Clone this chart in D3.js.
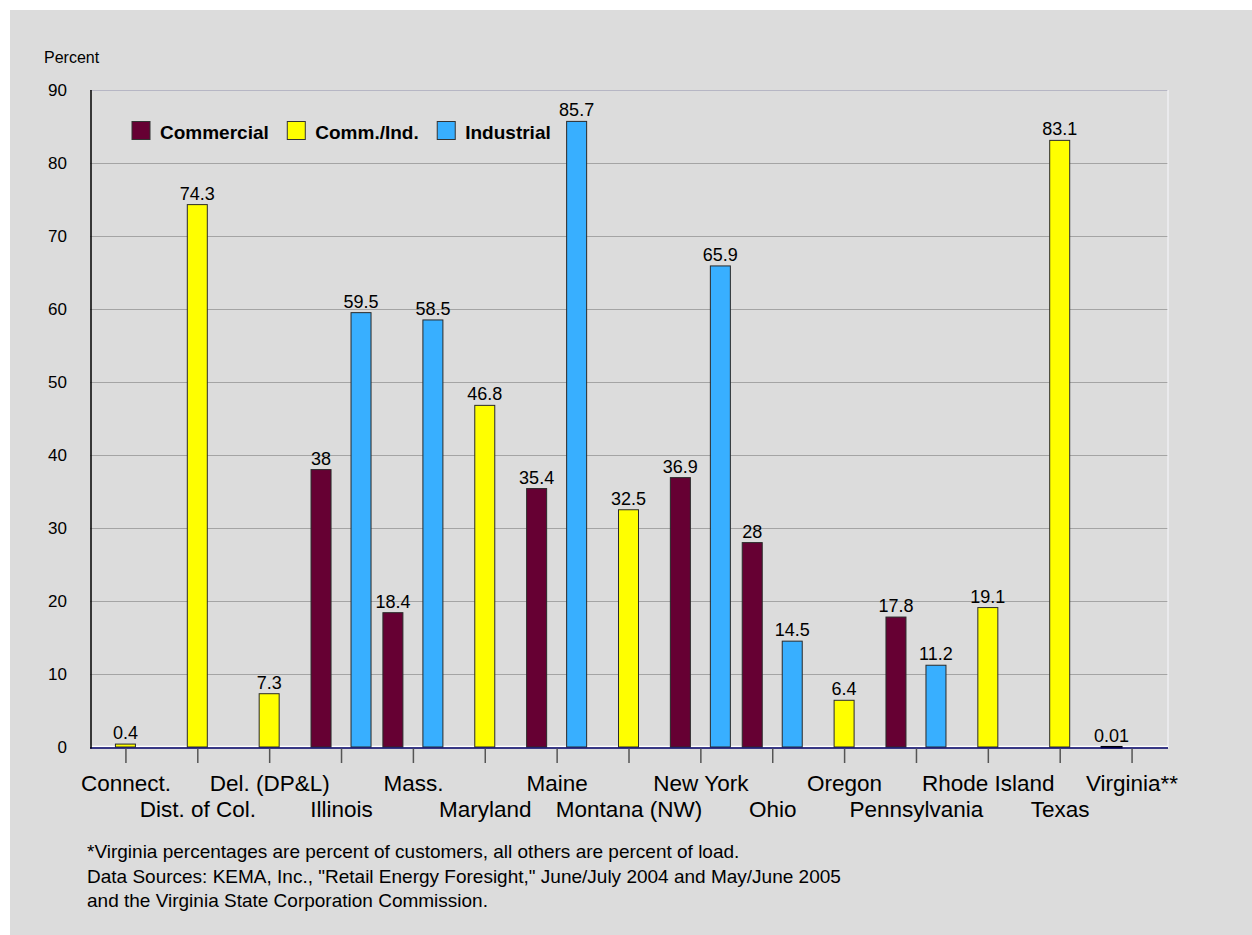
<!DOCTYPE html>
<html>
<head>
<meta charset="utf-8">
<script src="https://cdn.jsdelivr.net/npm/d3@7"></script>
<style>
  html, body { margin: 0; padding: 0; background: #ffffff; }
  svg { display: block; }
  text { font-family: "Liberation Sans", Arial, Helvetica, sans-serif; fill: #000; }
</style>
</head>
<body>
<svg id="chart" width="1252" height="935"></svg>
<script>
// Share of load (percent) served by competitive suppliers, by state and customer class
const categories = ["Connect.", "Dist. of Col.", "Del. (DP&L)", "Illinois", "Mass.", "Maryland",
  "Maine", "Montana (NW)", "New York", "Ohio", "Oregon", "Pennsylvania", "Rhode Island", "Texas", "Virginia**"];
const commercial = [null, null, null, 38, 18.4, null, 35.4, null, 36.9, 28, null, 17.8, null, null, 0.01];
const commInd    = [0.4, 74.3, 7.3, null, null, 46.8, null, 32.5, null, null, 6.4, null, 19.1, 83.1, null];
const industrial = [null, null, null, 59.5, 58.5, null, 85.7, null, 65.9, 14.5, null, 11.2, null, null, null];
const seriesNames = ["Commercial", "Comm./Ind.", "Industrial"];
const yTicks = [0, 10, 20, 30, 40, 50, 60, 70, 80, 90];
const footnotes = [
  "*Virginia percentages are percent of customers, all others are percent of load.",
  "Data Sources: KEMA, Inc., \"Retail Energy Foresight,\" June/July 2004 and May/June 2005",
  "and the Virginia State Corporation Commission."
];

const seriesValues = [commercial, commInd, industrial];
const colors = ["#660033", "#ffff00", "#38afff"];

const svg = d3.select("#chart");

// panel background
svg.append("rect").attr("x", 10).attr("y", 10).attr("width", 1242).attr("height", 925).attr("fill", "#dcdcdc");

const plot = { left: 90, right: 1168, top: 90, bottom: 747 };

const x = d3.scaleBand().domain(categories).range([plot.left, plot.right]).padding(0);
const sub = d3.scaleBand().domain(seriesNames).range([-30.5, 29.5]).paddingInner(0);
const y = d3.scaleLinear().domain([0, 90]).range([plot.bottom, plot.top]);
const cx = c => x(c) + x.bandwidth() / 2;

// horizontal gridlines
svg.append("g").selectAll("line")
  .data(yTicks.filter(t => t > 0 && t < 90))
  .join("line")
  .attr("x1", plot.left).attr("x2", plot.right)
  .attr("y1", d => Math.round(y(d)) + 0.5).attr("y2", d => Math.round(y(d)) + 0.5)
  .attr("stroke", "#a4a4a4").attr("stroke-width", 1.2);

// top and right frame
svg.append("line").attr("x1", plot.left).attr("x2", plot.right)
  .attr("y1", y(90) + 0.5).attr("y2", y(90) + 0.5).attr("stroke", "#b6b6c4").attr("stroke-width", 1.2);
svg.append("line").attr("x1", plot.right).attr("x2", plot.right)
  .attr("y1", plot.top).attr("y2", plot.bottom + 1).attr("stroke", "#f4f4f8").attr("stroke-width", 1.2);
// white baseline highlight
svg.append("line").attr("x1", plot.left).attr("x2", plot.right)
  .attr("y1", y(0) - 0.5).attr("y2", y(0) - 0.5).attr("stroke", "#ffffff").attr("stroke-width", 1.5);

// y tick labels
svg.append("g").selectAll("text")
  .data(yTicks)
  .join("text")
  .attr("x", 67).attr("y", d => y(d)).attr("dy", "0.36em")
  .attr("text-anchor", "end").style("font-size", "17px")
  .text(d => d);

svg.append("text").attr("x", 44).attr("y", 63).style("font-size", "16px").text("Percent");

// bars
const barData = [];
seriesNames.forEach((s, si) => {
  seriesValues[si].forEach((v, ci) => {
    if (v !== null) barData.push({ series: s, si, cat: categories[ci], value: v });
  });
});

const bars = svg.append("g");
bars.selectAll("rect")
  .data(barData)
  .join("rect")
  .attr("x", d => cx(d.cat) + sub(d.series))
  .attr("width", sub.bandwidth())
  .attr("y", d => y(d.value))
  .attr("height", d => Math.max(y(0) - y(d.value), 0.5))
  .attr("fill", d => colors[d.si])
  .attr("stroke", d => d.si === 0 && d.value < 0.1 ? "#000" : "#2a2a2a")
  .attr("stroke-width", d => d.value < 0.1 ? 2 : 1);

// value labels
bars.selectAll("text")
  .data(barData)
  .join("text")
  .attr("x", d => cx(d.cat) + sub(d.series) + sub.bandwidth() / 2)
  .attr("y", d => y(d.value) - 5)
  .attr("text-anchor", "middle")
  .style("font-size", "18px")
  .text(d => d.value);

// axes lines
svg.append("line").attr("x1", plot.left).attr("x2", plot.right)
  .attr("y1", y(0) + 1).attr("y2", y(0) + 1).attr("stroke", "#000066").attr("stroke-width", 1.5);
svg.append("line").attr("x1", plot.left + 1).attr("x2", plot.left + 1)
  .attr("y1", plot.top).attr("y2", y(0) + 1.5).attr("stroke", "#000").attr("stroke-width", 1.5);

// category ticks and staggered labels
const xg = svg.append("g");
xg.selectAll("line")
  .data(categories)
  .join("line")
  .attr("x1", d => cx(d)).attr("x2", d => cx(d))
  .attr("y1", y(0) + 1.5).attr("y2", y(0) + 16)
  .attr("stroke", "#555").attr("stroke-width", 1.5);
xg.selectAll("text")
  .data(categories)
  .join("text")
  .attr("x", d => cx(d))
  .attr("y", (d, i) => i % 2 === 0 ? 791 : 817)
  .attr("text-anchor", "middle")
  .style("font-size", "22.5px")
  .text(d => d);

// legend
const legend = svg.append("g");
let lx = 132;
seriesNames.forEach((s, i) => {
  legend.append("rect").attr("x", lx).attr("y", 121.5).attr("width", 18).attr("height", 18)
    .attr("fill", colors[i]).attr("stroke", "#333").attr("stroke-width", 1);
  const t = legend.append("text").attr("x", lx + 28).attr("y", 139)
    .style("font-size", "19px").style("font-weight", "bold").text(s);
  lx += 28 + t.node().getComputedTextLength() + 18.5;
});

// footnotes
svg.append("g").selectAll("text")
  .data(footnotes)
  .join("text")
  .attr("x", 87).attr("y", (d, i) => 858 + i * 24.7)
  .style("font-size", "19px")
  .text(d => d);
</script>
</body>
</html>
